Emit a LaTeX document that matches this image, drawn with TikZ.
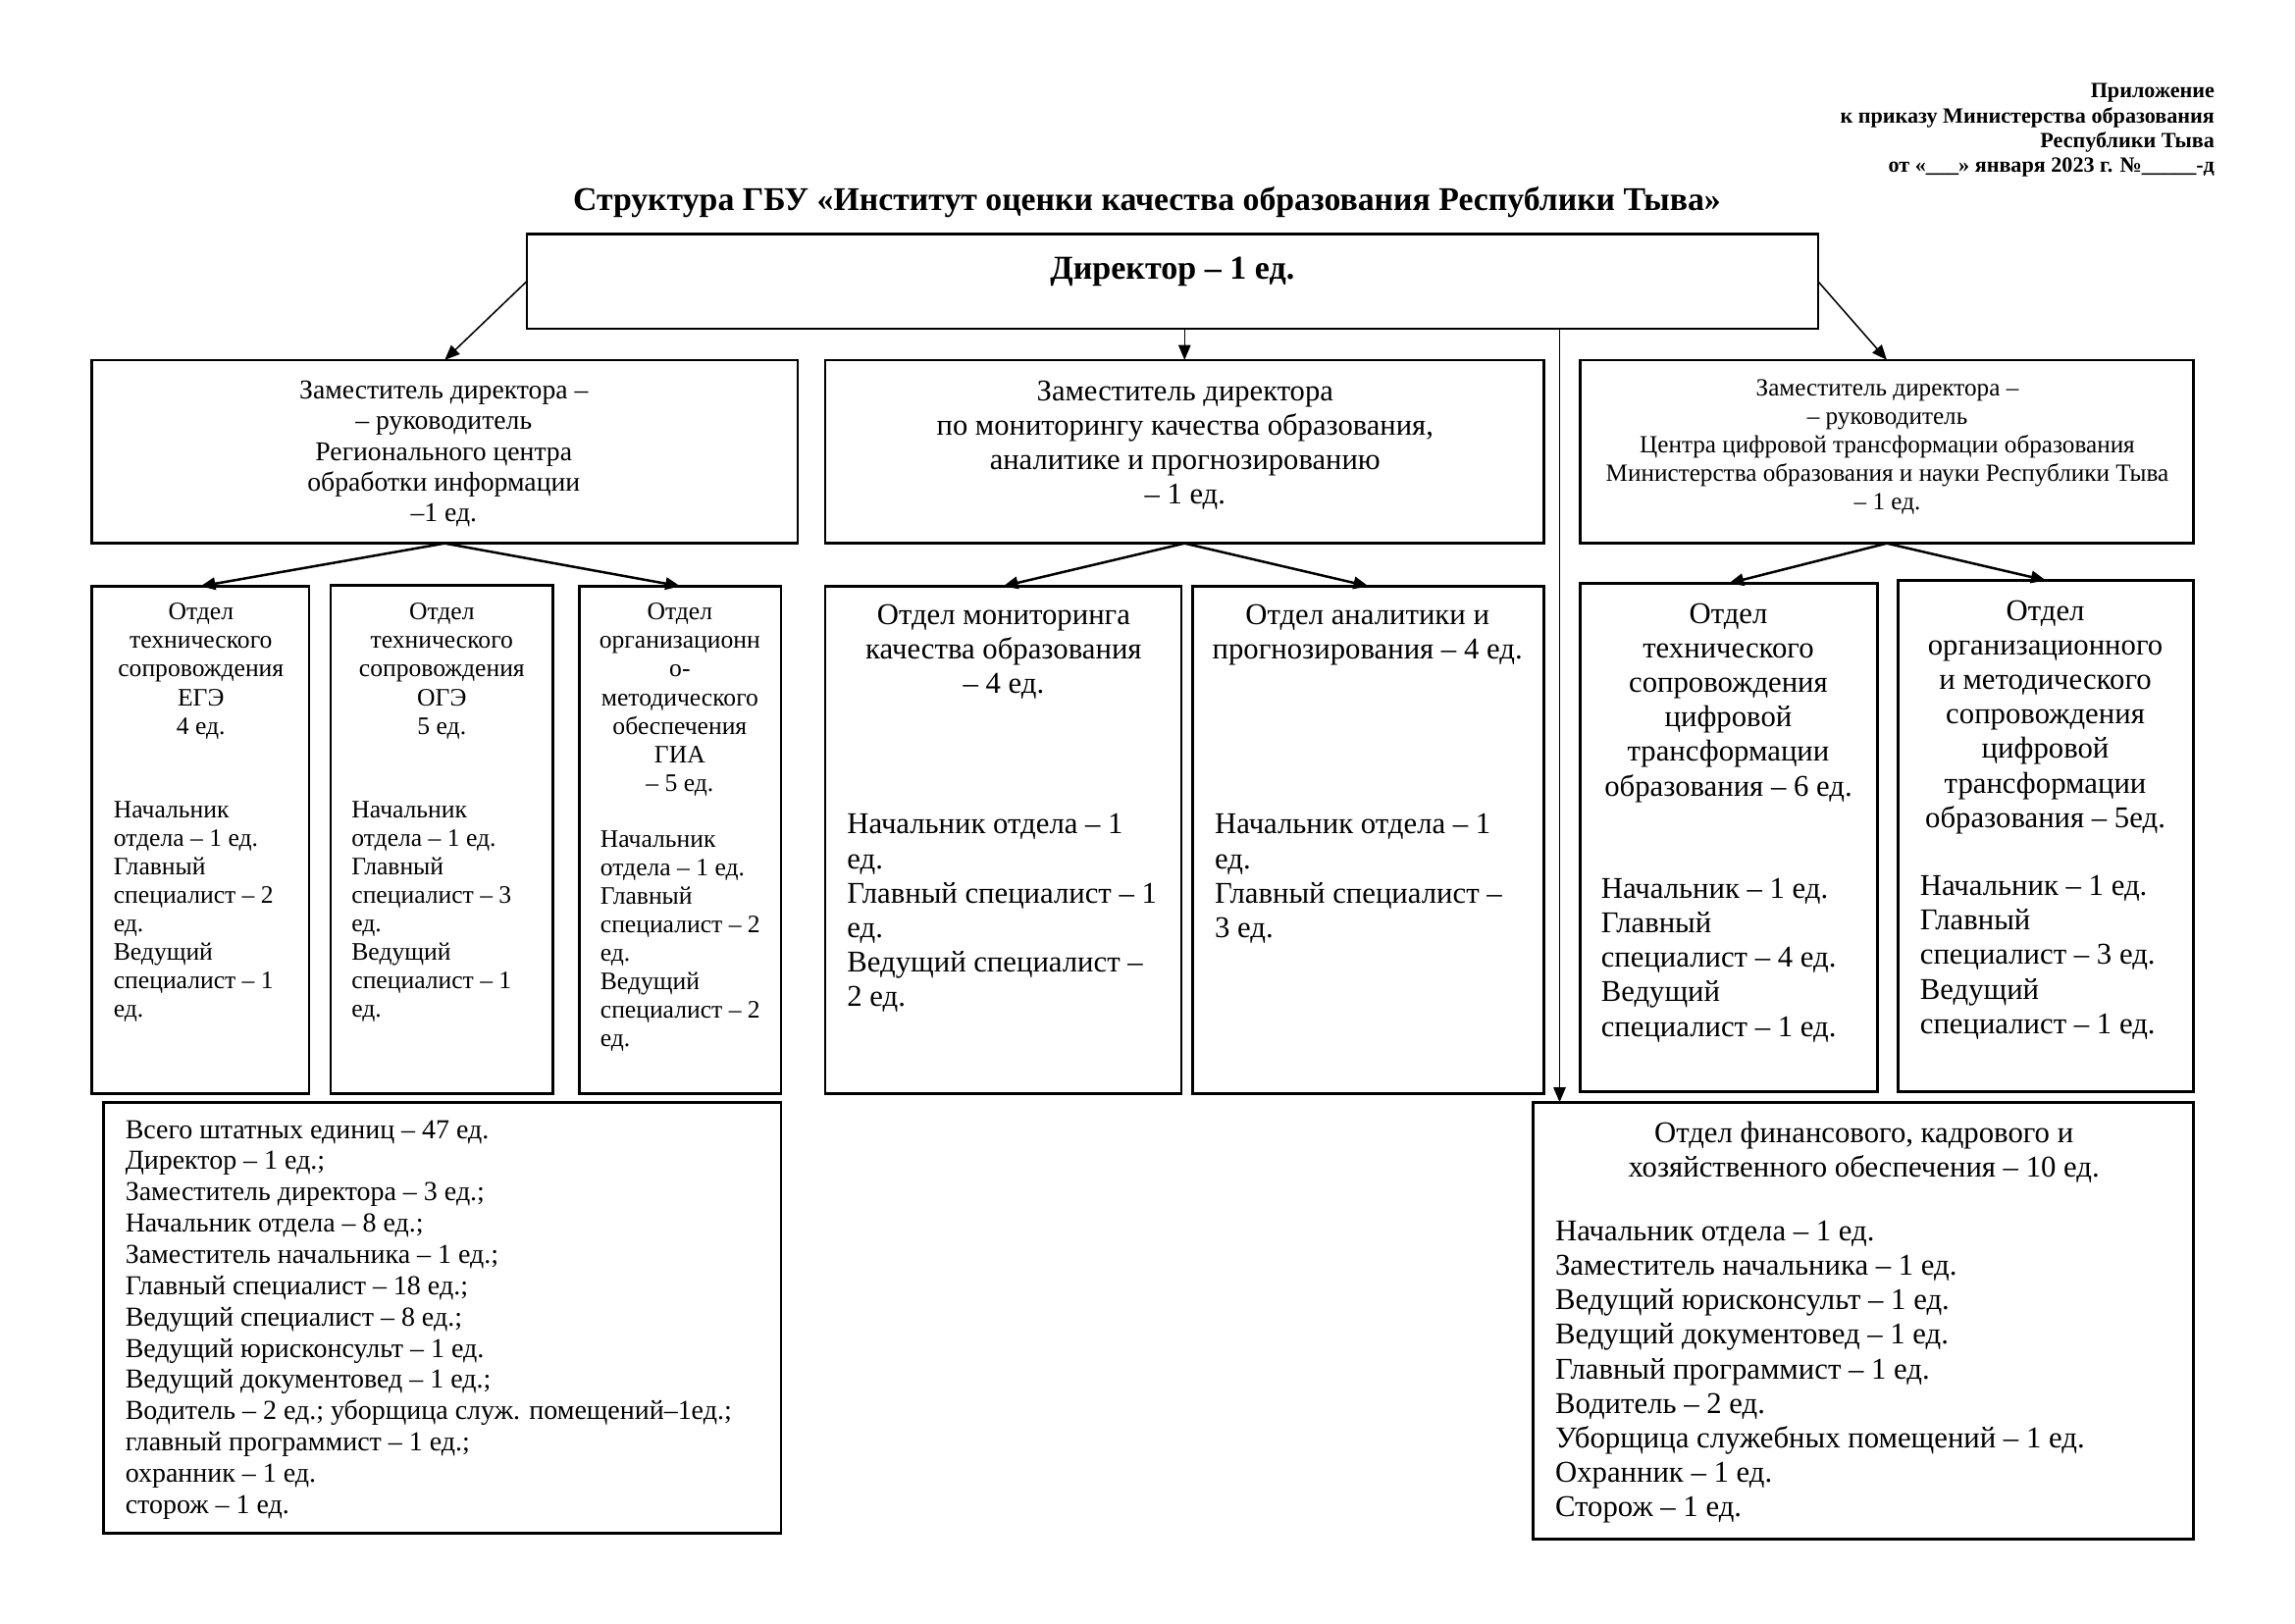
\documentclass[tikz,border=0pt]{standalone}
\usepackage{fontspec}
\setmainfont{Liberation Serif}
\usetikzlibrary{arrows.meta,fit,calc}
\newcommand{\fsz}[2]{\fontsize{#1pt}{#2pt}\selectfont}
\begin{document}
\begin{tikzpicture}[x=0.012624cm,y=-0.012624cm,
  box/.style={draw,line width=0.9pt,inner sep=0pt,outer sep=0pt},
  txt/.style={inner sep=0pt,align=center,anchor=north},
  ltxt/.style={inner sep=0pt,align=left,anchor=north west},
  arr/.style={line width=0.9pt,-{Triangle[length=5.5pt,width=4.5pt]}},
  tarr/.style={line width=0.55pt,-{Triangle[length=5.5pt,width=4.5pt]}},
  small/.style={font=\fsz{9.25}{10.5}},
  mid/.style={font=\fsz{11.1}{12.7}}]
\fill[white] (0,0) rectangle (2353,1664);
\useasboundingbox (0,0) rectangle (2353,1664);

% header
\node[inner sep=0pt,align=right,anchor=north east,font=\bfseries\fsz{8}{9.2}] (hdr) at (2271,85)
 {Приложение\\ к приказу Министерства образования\\ Республики Тыва\\ от «\_\_\_» января 2023 г. №\_\_\_\_\_-д};
\node[txt,font=\bfseries\fsz{12.2}{14}] (title) at (1176,191)
 {Структура ГБУ «Институт оценки качества образования Республики Тыва»};

% boxes
\node[box,fit={(540,240)(1864,337)}] (dir) {};
\node[box,fit={(94,369)(818,557)}] (zl) {};
\node[box,fit={(846,369)(1583,557)}] (zm) {};
\node[box,fit={(1620,369)(2249,557)}] (zr) {};
\node[box,fit={(94,601)(317,1121)}] (b1) {};
\node[box,fit={(339,600)(567,1121)}] (b2) {};
\node[box,fit={(594,601)(801,1121)}] (b3) {};
\node[box,fit={(846,601)(1211,1121)}] (b4) {};
\node[box,fit={(1223,601)(1583,1121)}] (b5) {};
\node[box,fit={(1620,598)(1925,1119)}] (b6) {};
\node[box,fit={(1946,595)(2249,1119)}] (b7) {};
\node[box,fit={(106,1130)(801,1572)}] (tot) {};
\node[box,fit={(1572,1130)(2249,1578)}] (fin) {};

% texts
\node[txt,font=\bfseries\fsz{12.3}{14}] (tdir) at (1202,263) {Директор – 1 ед.};
\node[txt,font=\fsz{10}{11.3}] (tzl) at (455,390)
 {Заместитель директора –\\ – руководитель\\ Регионального центра\\ обработки информации\\ –1 ед.};
\node[txt,font=\fsz{11.05}{12.6}] (tzm) at (1215,390)
 {Заместитель директора\\ по мониторингу качества образования,\\ аналитике и прогнозированию\\ – 1 ед.};
\node[txt,font=\fsz{9.1}{10.4}] (tzr) at (1935,389)
 {Заместитель директора –\\ – руководитель\\ Центра цифровой трансформации образования\\ Министерства образования и науки Республики Тыва\\ – 1 ед.};

\node[txt,small] (h1) at (206,618) {Отдел\\ технического\\ сопровождения\\ ЕГЭ\\ 4 ед.};
\node[ltxt,small] (l1) at (116,821) {Начальник\\ отдела – 1 ед.\\ Главный\\ специалист – 2\\ ед.\\ Ведущий\\ специалист – 1\\ ед.};
\node[txt,small] (h2) at (453,618) {Отдел\\ технического\\ сопровождения\\ ОГЭ\\ 5 ед.};
\node[ltxt,small] (l2) at (360,821) {Начальник\\ отдела – 1 ед.\\ Главный\\ специалист – 3\\ ед.\\ Ведущий\\ специалист – 1\\ ед.};
\node[txt,small] (h3) at (697,618) {Отдел\\ организационн\\ о-\\ методического\\ обеспечения\\ ГИА\\ – 5 ед.};
\node[ltxt,small] (l3) at (615,851) {Начальник\\ отдела – 1 ед.\\ Главный\\ специалист – 2\\ ед.\\ Ведущий\\ специалист – 2\\ ед.};

\node[txt,mid] (h4) at (1029,619) {Отдел мониторинга\\ качества образования\\ – 4 ед.};
\node[ltxt,mid] (l4) at (868,834) {Начальник отдела – 1\\ ед.\\ Главный специалист – 1\\ ед.\\ Ведущий специалист –\\ 2 ед.};
\node[txt,mid] (h5) at (1402,619) {Отдел аналитики и\\ прогнозирования – 4 ед.};
\node[ltxt,mid] (l5) at (1245,834) {Начальник отдела – 1\\ ед.\\ Главный специалист –\\ 3 ед.};

\node[txt,mid] (h6) at (1772,618) {Отдел\\ технического\\ сопровождения\\ цифровой\\ трансформации\\ образования – 6 ед.};
\node[ltxt,mid] (l6) at (1641,900) {Начальник – 1 ед.\\ Главный\\ специалист – 4 ед.\\ Ведущий\\ специалист – 1 ед.};
\node[txt,mid] (h7) at (2097,615) {Отдел\\ организационного\\ и методического\\ сопровождения\\ цифровой\\ трансформации\\ образования – 5ед.};
\node[ltxt,mid] (l7) at (1968,897) {Начальник – 1 ед.\\ Главный\\ специалист – 3 ед.\\ Ведущий\\ специалист – 1 ед.};

\node[ltxt,font=\fsz{10.1}{11.5}] (ttot) at (128,1148)
 {Всего штатных единиц – 47 ед.\\ Директор – 1 ед.;\\ Заместитель директора – 3 ед.;\\ Начальник отдела – 8 ед.;\\ Заместитель начальника – 1 ед.;\\ Главный специалист – 18 ед.;\\ Ведущий специалист – 8 ед.;\\ Ведущий юрисконсульт – 1 ед.\\ Ведущий документовед – 1 ед.;\\ Водитель – 2 ед.; уборщица служ. помещений–1ед.;\\ главный программист – 1 ед.;\\ охранник – 1 ед.\\ сторож – 1 ед.};
\node[txt,mid] (hfin) at (1911,1149) {Отдел финансового, кадрового и\\ хозяйственного обеспечения – 10 ед.};
\node[ltxt,mid] (lfin) at (1594,1251)
 {Начальник отдела – 1 ед.\\ Заместитель начальника – 1 ед.\\ Ведущий юрисконсульт – 1 ед.\\ Ведущий документовед – 1 ед.\\ Главный программист – 1 ед.\\ Водитель – 2 ед.\\ Уборщица служебных помещений – 1 ед.\\ Охранник – 1 ед.\\ Сторож – 1 ед.};

% connectors
\draw[tarr] (dir.west) -- (zl.north);
\draw[tarr] (dir.south -| zm.north) -- (zm.north);
\draw[tarr] (dir.east) -- (zr.north);
\coordinate (vx) at (1599,337);
\draw[tarr] (vx) -- (vx |- fin.north);
\draw[arr] (zl.south) -- (b1.north);
\draw[arr] (zl.south) -- (b3.north);
\draw[arr] (zm.south) -- (b4.north);
\draw[arr] (zm.south) -- (b5.north);
\draw[arr] (zr.south) -- (b6.north);
\draw[arr] (zr.south) -- (b7.north);
\end{tikzpicture}
\end{document}
